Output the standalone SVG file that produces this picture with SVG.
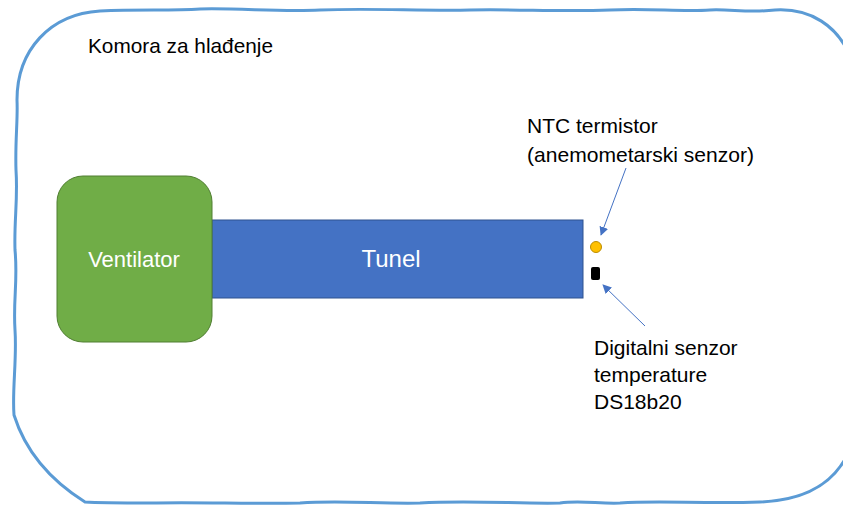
<svg xmlns="http://www.w3.org/2000/svg" width="843" height="505" viewBox="0 0 843 505">
<defs>
<style>
.lbl{font-family:"Liberation Sans",Arial,sans-serif;font-size:21px;fill:#000}
.wl{font-family:"Liberation Sans",Arial,sans-serif;font-size:22px;fill:#fff;text-anchor:middle}
.conn{stroke:#4472C4;stroke-width:1;fill:none;marker-end:url(#ah)}
</style>
<marker id="ah" viewBox="0 0 10 10" refX="9" refY="5" markerWidth="9" markerHeight="9" orient="auto" markerUnits="userSpaceOnUse">
<path d="M0,0 L10,5 L0,10 z" fill="#4472C4"/>
</marker>
</defs>
<g id="komora">
<path d="M100,11 C140,9 170,11 200,9 C240,8 280,12 320,10 C370,8 420,11 470,10 C520,9 560,12 610,10 C650,8 680,12 710,10 C730,9 750,13 775,10 C810,8 838,25 852,60 L856,430 C845,480 810,500 760,502 C700,504 660,500 620,503 C600,504 580,500 560,503 C520,504 470,500 420,503 C380,504 340,500 300,503 C250,504 200,502 150,503 C120,503 100,503 85,502 C50,480 25,450 14,415 C12,390 17,360 15,330 C13,300 18,280 15,250 C14,220 18,200 16,170 C15,140 18,120 17,100 C17,50 50,14 100,11 Z" fill="none" stroke="#5B9BD5" stroke-width="3"/>
<text class="lbl" x="88" y="53" textLength="185" lengthAdjust="spacingAndGlyphs">Komora za hlađenje</text>
</g>
<g id="tunel">
<rect x="212" y="220" width="371" height="78" fill="#4472C4" stroke="#2F528F" stroke-width="1"/>
<text class="wl" x="391" y="267" style="font-size:24px">Tunel</text>
</g>
<g id="ventilator">
<rect x="57" y="176" width="155" height="166" rx="26" fill="#70AD47" stroke="#507E32" stroke-width="1"/>
<text class="wl" x="134" y="267">Ventilator</text>
</g>
<g id="ntc">
<circle cx="596" cy="247" r="5.5" fill="#FFC000" stroke="#BC8C00" stroke-width="1"/>
<text class="lbl" x="527" y="133">NTC termistor</text>
<text class="lbl" x="527" y="162" textLength="227" lengthAdjust="spacingAndGlyphs">(anemometarski senzor)</text>
</g>
<g id="ds18b20">
<rect x="591" y="267" width="9" height="13" rx="2" fill="#000"/>
<text class="lbl" x="594" y="355">Digitalni senzor</text>
<text class="lbl" x="594" y="382">temperature</text>
<text class="lbl" x="594" y="409">DS18b20</text>
</g>
<g id="connectors">
<line class="conn" x1="626" y1="168" x2="601" y2="235"/>
<line class="conn" x1="645" y1="326" x2="603" y2="285"/>
</g>
</svg>
